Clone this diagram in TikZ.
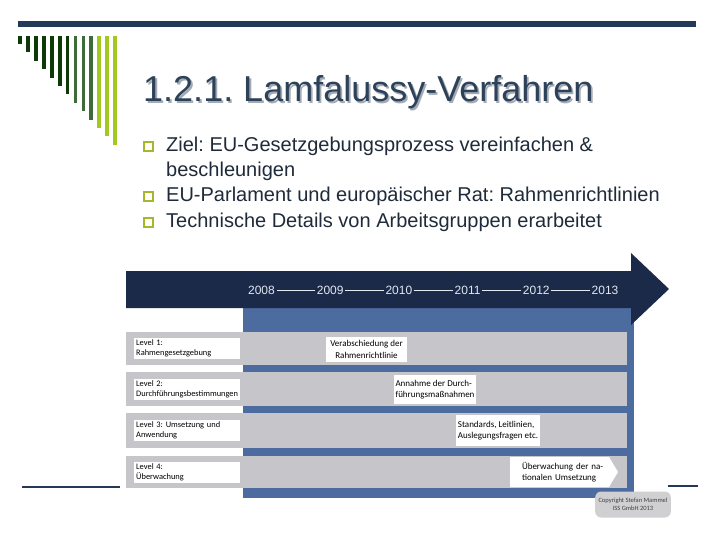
\documentclass[tikz,border=0pt]{standalone}
\usepackage{fontspec}
\setmainfont{Liberation Sans}
\newfontfamily\narrowfont{Carlito}
\usetikzlibrary{positioning}
\frenchspacing

\definecolor{topline}{HTML}{223A57}
\definecolor{titlecol}{HTML}{2D4159}
\definecolor{titleshadow}{HTML}{A3ABB5}
\definecolor{bodytext}{HTML}{1F2B3A}
\definecolor{bulletgreen}{HTML}{A6B82A}
\definecolor{bardark}{HTML}{0E3A08}
\definecolor{barmid}{HTML}{3F6A3A}
\definecolor{barlight}{HTML}{A3C81E}
\definecolor{navyband}{HTML}{1B2A48}
\definecolor{panelblue}{HTML}{4C6B9E}
\definecolor{rowgray}{HTML}{C6C5CA}
\definecolor{yeartext}{HTML}{E3E8F0}
\definecolor{copygray}{HTML}{D0D0D3}

\newcommand{\shadowtext}[1]{\rlap{\kern1.8pt\raisebox{-1.8pt}{\textcolor{titleshadow}{#1}}}#1}

\tikzset{
  bullettext/.style={anchor=base west, inner sep=0pt, text=bodytext, font=\fontsize{20}{24}\selectfont},
  bulletbox/.style={draw=bulletgreen, line width=1.8pt, minimum size=9.2pt, inner sep=0pt},
  rowbar/.style={fill=rowgray, anchor=north west, minimum width=501pt, inner sep=0pt},
  levelbox/.style={fill=white, align=left, minimum height=21pt, text width=102pt, inner xsep=2pt, inner ysep=1pt, font=\narrowfont\fontsize{8.4}{9.8}\selectfont},
  eventbox/.style={fill=white, inner sep=2pt, font=\narrowfont\fontsize{9}{11.5}\selectfont},
  yearlabel/.style={text=yeartext, inner sep=1.5pt, font=\fontsize{12}{13}\selectfont},
  yearline/.style={draw=yeartext, line width=0.6pt},
  copybox/.style={fill=copygray, rounded corners=6pt, minimum width=71pt, minimum height=26pt, align=center, text=black!75, font=\narrowfont\fontsize{6.5}{8}\selectfont},
}

\begin{document}
\begin{tikzpicture}[x=1pt,y=-1pt]
    \useasboundingbox (0,0) rectangle (720,540);
    \fill[white] (0,0) rectangle (720,540);

    % Top line and green bars
    \fill[topline] (18,21) rectangle (696,27.5);
    \foreach \i/\c in {0/bardark,1/bardark,2/bardark,3/bardark,4/bardark,5/bardark,6/bardark,
                       7/barmid,8/barmid,9/barmid,10/barlight,11/barlight,12/barlight}
        \fill[\c] ({18.3+7.9*\i},36) rectangle ({22+7.9*\i},{44+8.4*\i});

    % Title with shadow
    \node[anchor=base west, inner sep=0pt, text=titlecol, font=\fontsize{36}{40}\selectfont] (title) at (143,101.5) {\shadowtext{1.2.1. Lamfalussy-Verfahren}};

    % Bullets
    \node[bullettext] (b1) at (166,152) {Ziel: EU-Gesetzgebungsprozess vereinfachen \&};
    \node[bullettext] (b1b) at (166,176.5) {beschleunigen};
    \node[bullettext] (b2) at (166,202) {EU-Parlament und europäischer Rat: Rahmenrichtlinien};
    \node[bullettext] (b3) at (166,228) {Technische Details von Arbeitsgruppen erarbeitet};
    \foreach \b in {b1,b2,b3}
        \node[bulletbox] at ([xshift=-17.5pt,yshift=5.5pt]\b.base west) {};

    % Footer lines
    \draw[topline, line width=2pt] (22,487) -- (120,487);
    \draw[topline, line width=2pt] (668,486) -- (698,486);

    % Blue panel and gray rows
    \fill[panelblue] (243,308) rectangle (634,498);
    \foreach \n/\y/\h in {1/332/33,2/372/34,3/413/35,4/456/32}
        \node[rowbar, minimum height=\h pt] (row\n) at (126,\y) {};

    % Timeline arrow
    \fill[navyband] (126,271) -- (631,271) -- (631,253) -- (669,289) -- (631,325) -- (631,308) -- (126,308) -- cycle;
    \foreach \yr [count=\k from 0] in {2008,2009,2010,2011,2012,2013}
        \node[yearlabel] (y\yr) at ({261.5+68.7*\k},290) {\yr};
    \foreach \a/\b in {2008/2009,2009/2010,2010/2011,2011/2012,2012/2013}
        \draw[yearline] (y\a) -- (y\b);

    % Level labels
    \node[levelbox, right=8pt of row1.west] (lev1) {Level 1:\\Rahmengesetzgebung};
    \node[levelbox, right=8pt of row2.west] (lev2) {Level 2:\\Durchführungsbestimmungen};
    \node[levelbox, right=8pt of row3.west] (lev3) {Level 3: Umsetzung und\\Anwendung};
    \node[levelbox, right=8pt of row4.west] (lev4) {Level 4:\\Überwachung};

    % Events
    \node[eventbox, align=center, minimum width=81pt, minimum height=25pt] (ev1) at (366.5,349.5) {Verabschiedung der\\Rahmenrichtlinie};
    \node[eventbox, align=left, minimum width=82pt, minimum height=29pt] (ev2) at (435,389.5) {Annahme der Durch-\\führungsmaßnahmen};
    \node[eventbox, align=left, minimum width=82pt, minimum height=31pt] (ev3) at (498,430.5) {Standards, Leitlinien,\\Auslegungsfragen etc.};
    \fill[white] (510,457) -- (609,457) -- (618,472) -- (609,487) -- (510,487) -- cycle;
    \node[eventbox, fill=none, align=left, text width=84pt] (ev4) at (564,472) {Überwachung der na-\\tionalen Umsetzung};

    % Copyright
    \node[copybox] (copy) at (633,504.5) {Copyright Stefan Mammel\\ISS GmbH 2013};
\end{tikzpicture}
\end{document}
